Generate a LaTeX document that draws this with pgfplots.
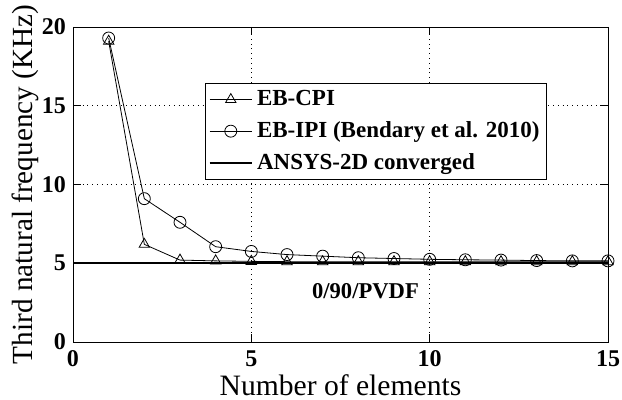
\documentclass[border=0pt]{standalone}
\usepackage{pgfplots}
\pgfplotsset{compat=1.18}
\usepackage{fontspec}
\setmainfont{Liberation Serif}
\begin{document}
\begin{tikzpicture}
\useasboundingbox (-36.5pt,-29pt) rectangle (274.5pt,171pt);
\begin{axis}[
  at={(0,0)}, anchor=south west,
  scale only axis, width=267.5pt, height=157.5pt,
  xmin=0, xmax=15, ymin=0, ymax=20,
  xtick={0,5,10,15}, ytick={0,5,10,15,20},
  tick align=inside, tick style={black, thin},
  major tick length=4pt,
  grid=major, grid style={black, dotted, thin},
  axis line style={black, thin},
  ticklabel style={font=\fontsize{12}{12}\selectfont\bfseries},
  xticklabel style={inner sep=1pt, yshift=-3pt},
  /pgf/number format/assume math mode=true,
  xlabel={Number of elements}, ylabel={Third natural frequency (KHz)},
  xlabel style={font=\fontsize{14.8}{14.8}\selectfont, at={(axis description cs:0.5,0)}, anchor=base, yshift=-27pt, inner sep=1pt},
  ylabel style={font=\fontsize{14.6}{14.6}\selectfont, at={(axis description cs:0,0.5)}, anchor=base, yshift=20pt, inner sep=1pt},
  legend style={at={(0.247,0.822)}, anchor=north west, draw=black, thin,
    font=\fontsize{11.5}{11.5}\selectfont\bfseries, inner sep=1.5pt, row sep=2.5pt,
    cells={anchor=west}},
  legend cell align=left,
  legend image code/.code={\draw[mark repeat=2,mark phase=2,#1] plot coordinates {(0cm,0cm) (0.37cm,0cm) (0.74cm,0cm)};},
]
\addplot[black, thin, mark=triangle, mark size=3pt, mark options={solid}] coordinates {
(1,19.1) (2,6.2) (3,5.2) (4,5.15) (5,5.12) (6,5.1) (7,5.1) (8,5.1) (9,5.1) (10,5.1) (11,5.1) (12,5.1) (13,5.1) (14,5.1) (15,5.1)};
\addlegendentry{EB-CPI}
\addplot[black, thin, mark=o, mark size=3pt] coordinates {
(1,19.3) (2,9.1) (3,7.6) (4,6.05) (5,5.75) (6,5.55) (7,5.45) (8,5.35) (9,5.3) (10,5.25) (11,5.22) (12,5.2) (13,5.17) (14,5.15) (15,5.15)};
\addlegendentry{EB-IPI (Bendary et al. 2010)}
\addplot[black, line width=1.2pt] coordinates {(0,5) (15,5)};
\addlegendentry{ANSYS-2D converged}
\node[font=\fontsize{11.3}{11.3}\selectfont\bfseries] at (axis cs:8.2,3.2) {0/90/PVDF};
\end{axis}
\end{tikzpicture}
\end{document}
